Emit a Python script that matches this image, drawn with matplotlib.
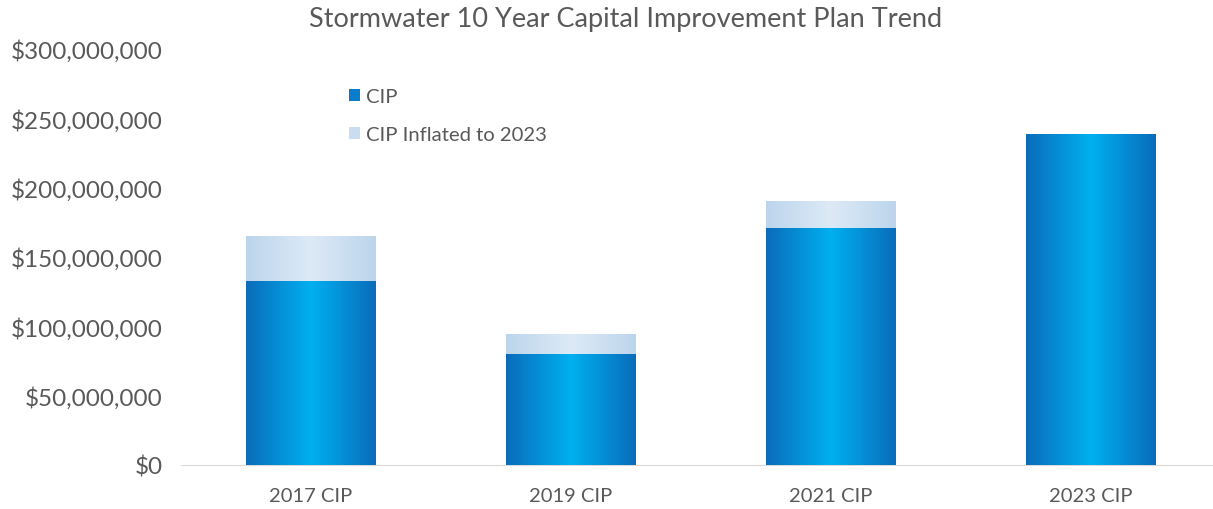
import numpy as np
import matplotlib.pyplot as plt
from matplotlib.colors import LinearSegmentedColormap
from matplotlib.patches import Patch
from matplotlib.ticker import FuncFormatter

plt.rcParams['font.family'] = ['Lato', 'DejaVu Sans']

labels = ['2017 CIP', '2019 CIP', '2021 CIP', '2023 CIP']
cip = [132e6, 80e6, 170.5e6, 238.5e6]
inflated = [165e6, 94e6, 190.5e6, 238.5e6]

dark = LinearSegmentedColormap.from_list('cip', ['#0A6CBA', '#00B0F0', '#0A6CBA'])
light = LinearSegmentedColormap.from_list('infl', ['#BCD5EC', '#DDEAF6', '#BCD5EC'])
grad = np.linspace(0, 1, 256).reshape(1, -1)

fig = plt.figure(figsize=(12.13, 5.10), dpi=100)
ax = fig.add_axes([181 / 1213, 44 / 510, 1032 / 1213, 416 / 510])

width = 0.5
for i, (c, inf) in enumerate(zip(cip, inflated)):
    x0, x1 = i - width / 2, i + width / 2
    if inf > c:
        ax.imshow(grad, cmap=light, extent=(x0, x1, c, inf), aspect='auto', zorder=2)
    ax.imshow(grad, cmap=dark, extent=(x0, x1, 0, c), aspect='auto', zorder=3)

ax.set_xlim(-0.5, -0.5 + 1032 / 260)
ax.set_ylim(0, 300e6)
ax.set_xticks(range(len(labels)))
ax.set_xticklabels(labels)
ax.set_yticks(np.arange(0, 300e6 + 1, 50e6))
ax.yaxis.set_major_formatter(FuncFormatter(lambda v, p: '${:,.0f}'.format(v)))
ax.tick_params(axis='both', length=0, colors='#595959')
ax.tick_params(axis='x', labelsize=14.5, pad=16)
ax.tick_params(axis='y', labelsize=17.5, pad=13)

for s in ['top', 'right', 'left']:
    ax.spines[s].set_visible(False)
ax.spines['bottom'].set_color('#D9D9D9')

fig.text(626 / 1213, 1 - 19 / 510, 'Stormwater 10 Year Capital Improvement Plan Trend',
         fontsize=19.5, color='#595959', ha='center', va='center')

handles = [Patch(facecolor='#0A7CCC', label='CIP'),
           Patch(facecolor='#C9DCF0', label='CIP Inflated to 2023')]
leg = ax.legend(handles=handles, loc='upper left', bbox_to_anchor=(0.145, 0.95),
                frameon=False, fontsize=14.6, labelcolor='#595959',
                handlelength=0.55, handleheight=0.55, handletextpad=0.3,
                labelspacing=1.05)

fig.savefig('out.png', dpi=100)
